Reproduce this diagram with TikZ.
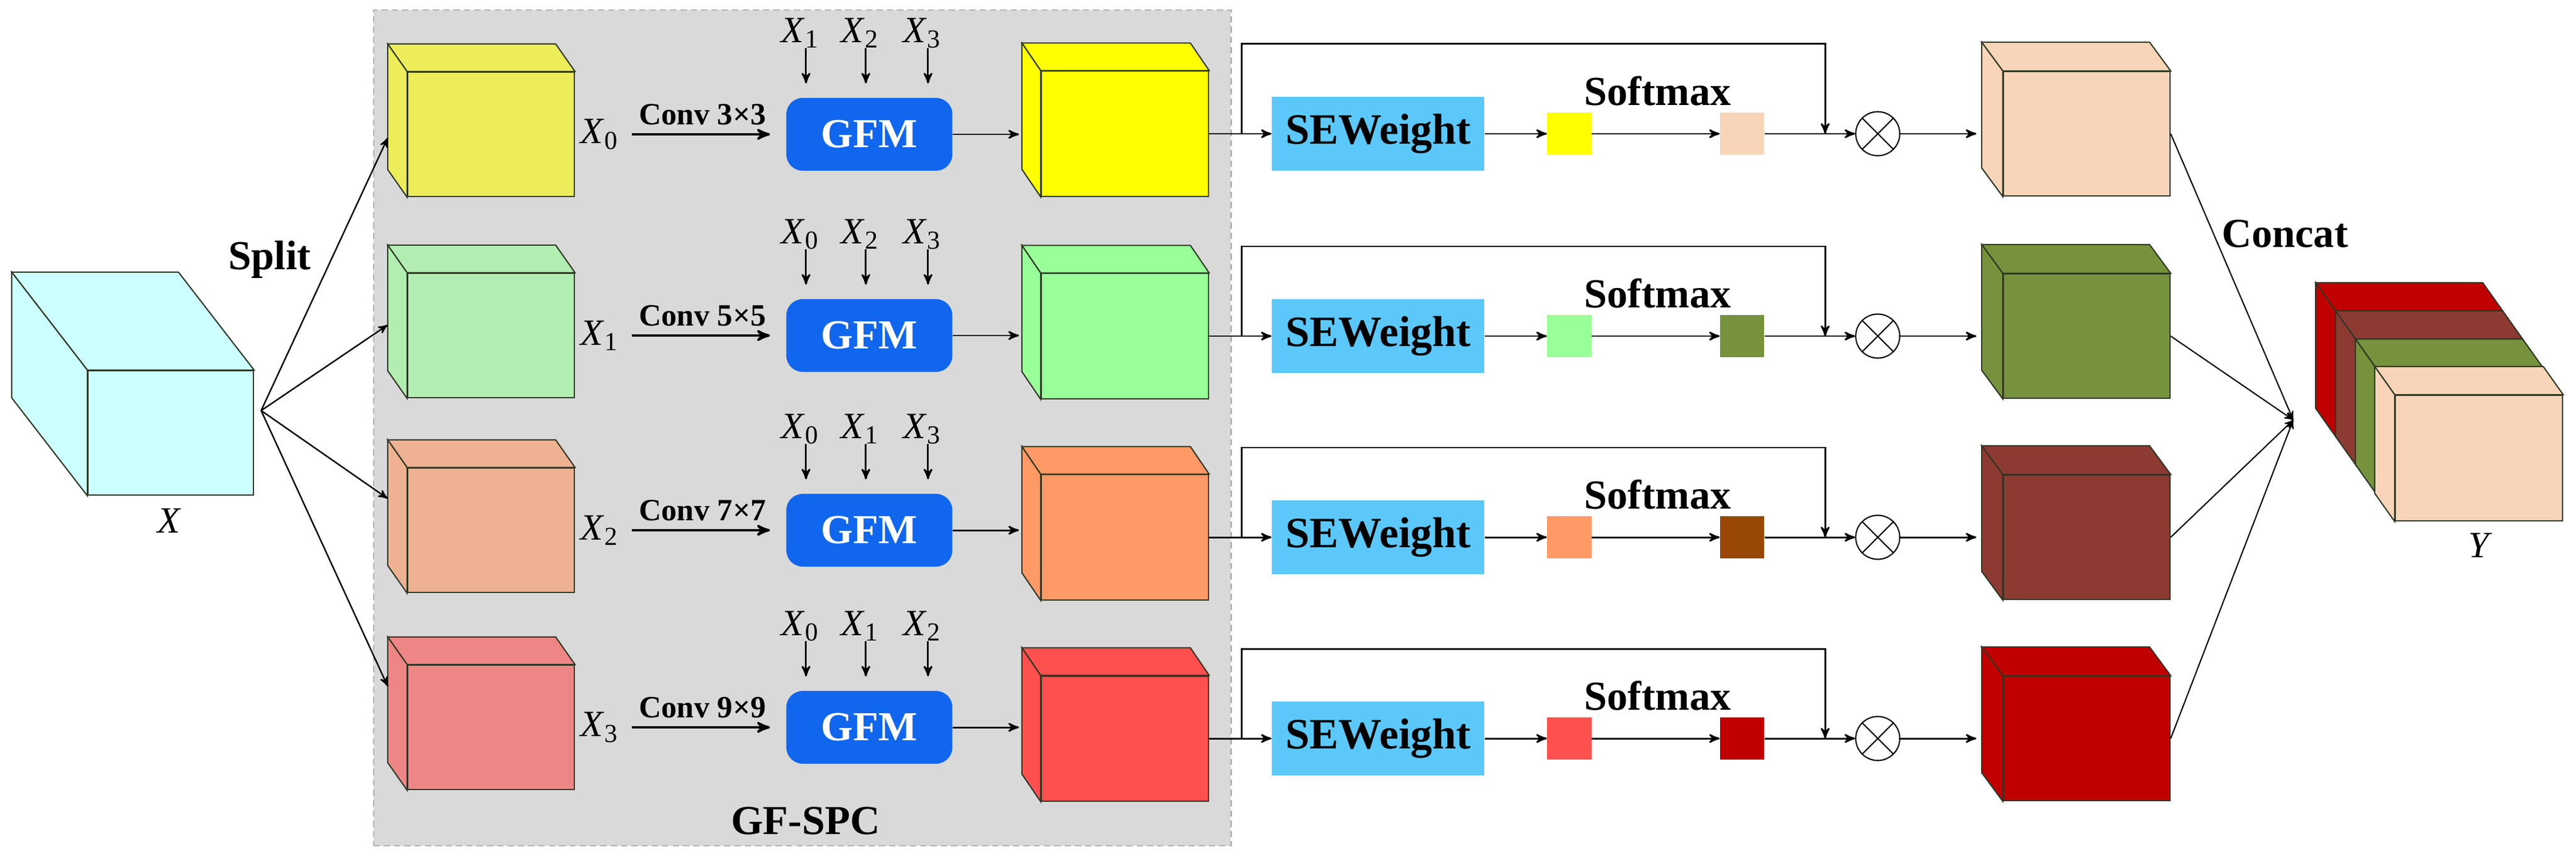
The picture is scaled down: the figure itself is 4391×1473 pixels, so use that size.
\documentclass[tikz,border=0pt]{standalone}
\usepackage{fontspec}
\setmainfont{Liberation Serif}
\usepackage{tikz}
\usetikzlibrary{arrows,positioning}

\definecolor{edgec}{RGB}{45,55,35}
\definecolor{cpanel}{RGB}{217,217,217}
\definecolor{cx}{RGB}{204,255,255}
\definecolor{cin0}{RGB}{237,237,90}
\definecolor{cin1}{RGB}{178,238,178}
\definecolor{cin2}{RGB}{238,178,146}
\definecolor{cin3}{RGB}{238,134,134}
\definecolor{cgf0}{RGB}{255,255,0}
\definecolor{cgf1}{RGB}{153,255,153}
\definecolor{cgf2}{RGB}{255,153,102}
\definecolor{cgf3}{RGB}{255,80,80}
\definecolor{csm0}{RGB}{248,213,184}
\definecolor{csm1}{RGB}{118,146,60}
\definecolor{csm2}{RGB}{152,72,6}
\definecolor{csm3}{RGB}{192,0,0}
\definecolor{cout0}{RGB}{248,213,184}
\definecolor{cout1}{RGB}{118,146,60}
\definecolor{cout2}{RGB}{140,58,50}
\definecolor{cout3}{RGB}{192,0,0}
\definecolor{cgfm}{RGB}{17,102,238}
\definecolor{cse}{RGB}{92,200,250}

\newcommand{\Xs}[1]{\textit{X}\textsubscript{#1}}
% top and left faces of a feature map
\newcommand{\sides}[4]{%
  \draw[cubeedge,fill=#2] (#1.north west) -- ++(#3,#4) -- ([shift={(#3,#4)}]#1.north east) -- (#1.north east) -- cycle;
  \draw[cubeedge,fill=#2] (#1.north west) -- ++(#3,#4) -- ([shift={(#3,#4)}]#1.south west) -- (#1.south west) -- cycle;}

\begin{document}
\begin{tikzpicture}[x=0.01cm,y=-0.01cm,>=stealth']
\tikzstyle{cubeedge}=[draw=edgec,line width=0.6pt]
\tikzstyle{fmap}=[cubeedge,inner sep=0pt,minimum width=2.84cm,minimum height=2.12cm]
\tikzstyle{gfm}=[fill=cgfm,rounded corners=0.28cm,minimum width=2.83cm,minimum height=1.24cm,text=white,font=\fontsize{20}{24}\selectfont\bfseries]
\tikzstyle{sew}=[fill=cse,minimum width=3.62cm,minimum height=1.26cm,font=\fontsize{21}{25}\selectfont\bfseries]
\tikzstyle{sq}=[minimum width=0.75cm,minimum height=0.72cm,inner sep=0pt]
\tikzstyle{mul}=[draw,circle,minimum size=0.75cm,inner sep=0pt,line width=0.6pt]
\tikzstyle{big}=[font=\fontsize{20}{24}\selectfont\bfseries]
\tikzstyle{conv}=[font=\fontsize{15}{18}\selectfont\bfseries,inner sep=0pt]
\tikzstyle{var}=[font=\fontsize{18}{22}\selectfont,inner sep=0pt]
\tikzstyle{arr}=[->,line width=0.85pt]
\useasboundingbox (0,0) rectangle (4391,1473);

\node[draw=black!30,densely dashed,line width=0.6pt,fill=cpanel,inner sep=0pt,minimum width=14.61cm,minimum height=14.25cm] (panel) at (1367.5,729.5) {};
\node[big] (gfspc) at (1373,1400) {GF-SPC};

% input
\node[fmap,fill=cx,minimum width=2.82cm] (X) at (291,738) {};
\sides{X}{cx}{-129}{-167}
\node[var] (xlab) at (289,888) {\textit{X}};
\node[big] (split) at (460,443) {Split};
\coordinate (sp) at ([shift={(12,-38)}]X.east);
\coordinate (cc) at (3909,716);

% four branches
\foreach \i/\yl/\yr/\sy/\pa/\pb/\pc/\k in {0/229/228/6/1/2/3/3, 1/572/573/-18/0/2/3/5, 2/904/916/-54/0/1/3/7, 3/1240/1259/-70/0/1/2/9}{
  \node[fmap,fill=cin\i] (in\i) at (837,\yl) {};
  \sides{in\i}{cin\i}{-33}{-47}
  \draw[arr,line width=0.7pt] (sp) -- ([shift={(-33,\sy)}]in\i.west);
  \node[var,right of=in\i,node distance=1.85cm] (xl\i) {\Xs{\i}};
  \node[gfm,right of=in\i,node distance=6.445cm] (g\i) {GFM};
  \draw[arr,line width=1.2pt,shorten <=0.22cm,shorten >=0.27cm] (xl\i) -- node[conv,above=0.14cm] {Conv \k×\k} (g\i);
  \foreach \vv/\dd in {\pa/-118,\pb/-16,\pc/90}{
    \node[var] (l\i\vv) at ([shift={(\dd,-110)}]g\i.north) {\Xs{\vv}};
    \draw[arr,shorten >=0.24cm] ([xshift=0.1cm]l\i\vv.south) -- ([xshift=0.1cm]l\i\vv.south |- g\i.north);
  }
  \node[fmap,fill=cgf\i,minimum width=2.85cm,minimum height=2.13cm] (o\i) at (1917.5,\yr) {};
  \sides{o\i}{cgf\i}{-32}{-47}
  \draw[arr,shorten >=0.37cm] (g\i.east) -- (g\i.east -| o\i.west);
  \node[sew,right of=o\i,node distance=4.315cm] (s\i) {SEWeight};
  \coordinate (k\i) at ([xshift=0.55cm]o\i.east);
  \draw[arr] (o\i.east) -- (s\i.west);
  \node[sq,fill=cgf\i,right of=s\i,node distance=3.255cm] (a\i) {};
  \node[sq,fill=csm\i,right of=a\i,node distance=2.945cm] (b\i) {};
  \node[big] (sf\i) at ([shift={(-144,-73)}]b\i) {Softmax};
  \draw[arr] (s\i) -- (a\i);
  \draw[arr] (a\i) -- (b\i);
  \node[mul,right of=b\i,node distance=2.31cm] (m\i) {};
  \draw[line width=0.6pt] (m\i.45) -- (m\i.225) (m\i.135) -- (m\i.315);
  \draw[arr] (b\i) -- (m\i);
  \coordinate (j\i) at ([xshift=-0.51cm]m\i.west);
  \draw[arr] (k\i) -- ++(0,-153) -| (j\i);
  \node[fmap,fill=cout\i,right of=m\i,node distance=3.56cm] (y\i) {};
  \sides{y\i}{cout\i}{-36}{-49}
  \draw[arr,shorten >=0.45cm] (m\i) -- (y\i.west);
  \draw[arr,line width=0.6pt] (y\i.east) -- (cc);
}

% concatenated output
\node[big] (concat) at (3895,399) {Concat};
\coordinate (ynw) at (4083,674);
\foreach \k/\col in {0/cout3,1/cout2,2/cout1}{
  \pgfmathsetmacro\bx{-136+34*\k}
  \pgfmathsetmacro\by{-192+48*\k}
  \pgfmathsetmacro\fx{\bx+34}
  \pgfmathsetmacro\fy{\by+48}
  \draw[cubeedge,fill=\col] ([shift={(\fx,\fy)}]ynw) rectangle ++(285,214);
  \draw[cubeedge,fill=\col] ([shift={(\fx,\fy)}]ynw) -- ([shift={(\bx,\by)}]ynw) -- ++(285,0) -- ([shift={(\fx+285,\fy)}]ynw) -- cycle;
  \draw[cubeedge,fill=\col] ([shift={(\fx,\fy)}]ynw) -- ([shift={(\bx,\by)}]ynw) -- ++(0,214) -- ([shift={(\fx,\fy+214)}]ynw) -- cycle;
}
\node[fmap,fill=cout0,minimum width=2.85cm,minimum height=2.14cm] (ycube) at (4225.5,781) {};
\sides{ycube}{cout0}{-34}{-48}
\node[var] (ylab) at (4228,930) {\textit{Y}};
\end{tikzpicture}
\end{document}
